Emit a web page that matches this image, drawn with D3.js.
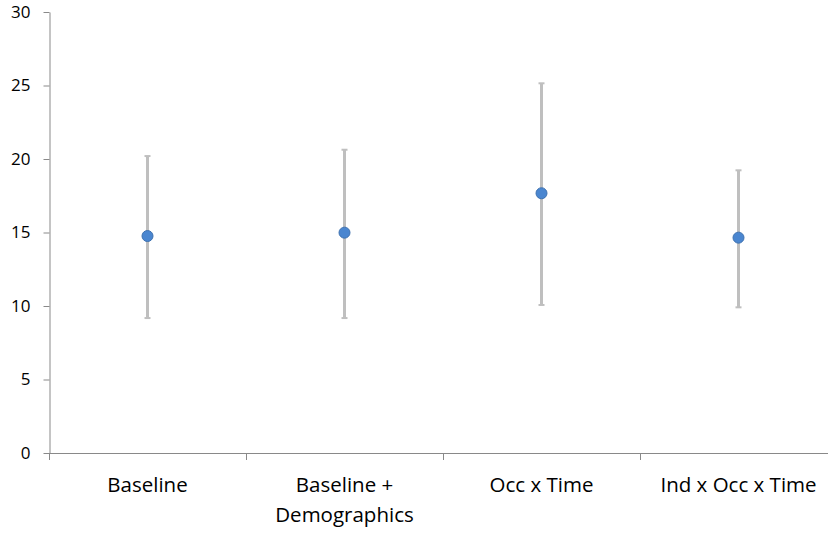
<!DOCTYPE html>
<html><head><meta charset="utf-8">
<script src="https://cdn.jsdelivr.net/npm/d3@7"></script>
<style>
html,body{margin:0;padding:0;background:#fff;}
svg{display:block;}
</style></head>
<body>
<svg id="chart" width="828" height="533"></svg>
<script>
const categories = [["Baseline"], ["Baseline +", "Demographics"], ["Occ x Time"], ["Ind x Occ x Time"]];
const means = [14.76, 14.99, 17.67, 14.65];
const upper = [20.2, 20.63, 25.15, 19.23];
const lower = [9.18, 9.18, 10.07, 9.91];
const yTicks = [0, 5, 10, 15, 20, 25, 30];

const svg = d3.select("#chart");
const keys = categories.map((c, i) => i);
const x = d3.scaleBand().domain(keys).range([49, 837]);
const y = d3.scaleLinear().domain([0, 30]).range([453, 12]);
const font = "'Open Sans', sans-serif";
const axisColor = "#898989";

// Y axis
const ya = svg.append("g").attr("transform", "translate(49.5,0)")
  .call(d3.axisLeft(y).tickValues(yTicks).tickSize(6).tickSizeOuter(0).tickPadding(13));
ya.select(".domain").attr("stroke", axisColor);
ya.selectAll(".tick line").attr("stroke", axisColor);
ya.selectAll(".tick text").attr("font-family", font).attr("font-size", 17).attr("fill", "#000");

// X axis
const xa = svg.append("g");
xa.append("line").attr("x1", 49).attr("x2", 837)
  .attr("y1", y(0) + 0.5).attr("y2", y(0) + 0.5).attr("stroke", axisColor);
xa.selectAll("line.tk").data(keys).join("line").attr("class", "tk")
  .attr("x1", d => Math.round(x(d)) + 0.5).attr("x2", d => Math.round(x(d)) + 0.5)
  .attr("y1", y(0)).attr("y2", y(0) + 7).attr("stroke", axisColor);

const lbl = xa.selectAll("text.cat").data(keys).join("text").attr("class", "cat")
  .attr("text-anchor", "middle").attr("font-family", font).attr("font-size", 20.5).attr("fill", "#000");
lbl.each(function(d) {
  const t = d3.select(this);
  categories[d].forEach((line, j) => {
    t.append("tspan").attr("x", x(d) + x.bandwidth() / 2).attr("y", 492 + j * 30).text(line);
  });
});

// Error bars
const eb = svg.append("g");
eb.selectAll("line.bar").data(keys).join("line")
  .attr("x1", d => x(d) + x.bandwidth() / 2).attr("x2", d => x(d) + x.bandwidth() / 2)
  .attr("y1", d => y(upper[d])).attr("y2", d => y(lower[d]))
  .attr("stroke", "#bfbfbf").attr("stroke-width", 3);
eb.selectAll("line.capu").data(keys).join("line")
  .attr("x1", d => x(d) + x.bandwidth() / 2 - 3).attr("x2", d => x(d) + x.bandwidth() / 2 + 3)
  .attr("y1", d => y(upper[d])).attr("y2", d => y(upper[d]))
  .attr("stroke", "#bfbfbf").attr("stroke-width", 2);
eb.selectAll("line.capl").data(keys).join("line")
  .attr("x1", d => x(d) + x.bandwidth() / 2 - 3).attr("x2", d => x(d) + x.bandwidth() / 2 + 3)
  .attr("y1", d => y(lower[d])).attr("y2", d => y(lower[d]))
  .attr("stroke", "#bfbfbf").attr("stroke-width", 2);

// Points
svg.append("g").selectAll("circle").data(keys).join("circle")
  .attr("cx", d => x(d) + x.bandwidth() / 2).attr("cy", d => y(means[d]))
  .attr("r", 5.5).attr("fill", "#4a86d0").attr("stroke", "#3f72b0").attr("stroke-width", 1);
</script>
</body></html>
